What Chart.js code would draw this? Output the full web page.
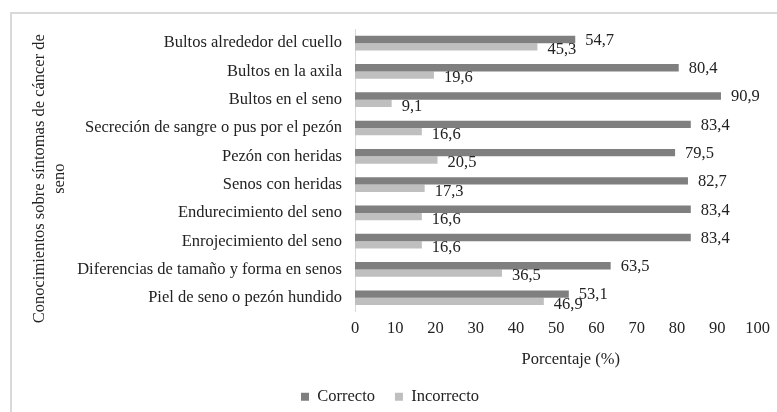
<!DOCTYPE html>
<html>
<head>
<meta charset="utf-8">
<script src="https://cdn.jsdelivr.net/npm/chart.js@4"></script>
<style>
  body { margin: 0; background: #fff; }
  #wrap { position: relative; width: 777px; height: 412px; }
  #frame { position: absolute; left: 10px; top: 12px; right: 0; bottom: 0;
           border-top: 2px solid #d9d9d9; border-left: 2px solid #d9d9d9; }
  #myChart { position: absolute; left: 0; top: 0; }
</style>
</head>
<body>
<div id="wrap">
  <div id="frame"></div>
  <canvas id="myChart" width="777" height="412"></canvas>
</div>
<script>
var sintomas = [
    'Bultos alrededor del cuello',
    'Bultos en la axila',
    'Bultos en el seno',
    'Secreción de sangre o pus por el pezón',
    'Pezón con heridas',
    'Senos con heridas',
    'Endurecimiento del seno',
    'Enrojecimiento del seno',
    'Diferencias de tamaño y forma en senos',
    'Piel de seno o pezón hundido'
];
var correcto = [54.7, 80.4, 90.9, 83.4, 79.5, 82.7, 83.4, 83.4, 63.5, 53.1];
var incorrecto = [45.3, 19.6, 9.1, 16.6, 20.5, 17.3, 16.6, 16.6, 36.5, 46.9];
var xTicks = [0, 10, 20, 30, 40, 50, 60, 70, 80, 90, 100];

Chart.defaults.font.family = '"Liberation Serif", "Times New Roman", serif';
Chart.defaults.font.size = 16.5;
Chart.defaults.color = '#222';

// value labels at the end of each bar, decimal comma
var barLabels = {
    id: 'barLabels',
    afterDatasetsDraw: function(chart) {
        var ctx = chart.ctx;
        ctx.save();
        ctx.font = '16.5px "Liberation Serif", serif';
        ctx.fillStyle = '#222';
        ctx.textAlign = 'left';
        ctx.textBaseline = 'middle';
        chart.data.datasets.forEach(function(ds, i) {
            var dy = i == 0 ? 1 : 3;
            chart.getDatasetMeta(i).data.forEach(function(bar, j) {
                ctx.fillText(ds.data[j].toFixed(1).replace('.', ','), bar.x + 10, bar.y + dy);
            });
        });
        ctx.restore();
    }
};

var ctx = document.getElementById('myChart').getContext('2d');
var chart = new Chart(ctx, {
    type: 'bar',
    data: {
        labels: sintomas,
        datasets: [{
            label: 'Correcto',
            backgroundColor: '#7f7f7f',
            data: correcto
        }, {
            label: 'Incorrecto',
            backgroundColor: '#bfbfbf',
            data: incorrecto
        }]
    },
    options: {
        indexAxis: 'y',
        responsive: false,
        animation: false,
        devicePixelRatio: 1,
        categoryPercentage: 0.52,
        barPercentage: 1,
        layout: { padding: { left: 20, right: 17, top: 29, bottom: -3 } },
        plugins: {
            legend: {
                position: 'bottom',
                labels: { boxWidth: 8, boxHeight: 8, padding: 20, color: '#222' }
            },
            tooltip: { enabled: false }
        },
        scales: {
            x: {
                min: 0,
                max: 100,
                afterBuildTicks: function(s) { s.ticks = xTicks.map(function(v) { return { value: v }; }); },
                grid: { display: false, drawTicks: false },
                border: { display: false },
                ticks: { padding: 7, maxRotation: 0 },
                title: { display: true, text: '       Porcentaje (%)', padding: { top: 4, bottom: -1 } }
            },
            y: {
                grid: { display: false, drawTicks: false },
                border: { display: true, color: '#d9d9d9', width: 1 },
                ticks: { padding: 13 },
                afterFit: function(s) { s.width = 335; },
                title: {
                    display: true,
                    text: ['Conocimientos sobre síntomas de cáncer de    ', 'seno    '],
                    lineHeight: 1.12,
                    padding: { top: 10, bottom: 0 }
                }
            }
        }
    },
    plugins: [barLabels]
});
</script>
</body>
</html>
